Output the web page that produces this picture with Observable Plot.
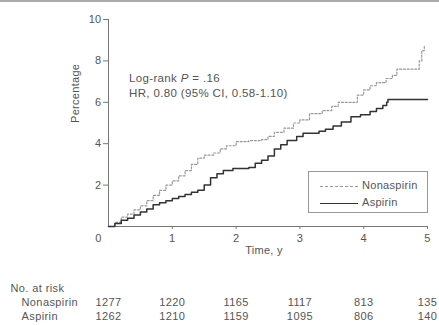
<!DOCTYPE html>
<html>
<head>
<meta charset="utf-8">
<script src="https://cdn.jsdelivr.net/npm/d3@7"></script>
<script src="https://cdn.jsdelivr.net/npm/@observablehq/plot@0.6"></script>
<style>
  html, body { margin: 0; padding: 0; background: #fff; }
  #wrap { position: relative; width: 439px; height: 325px; overflow: hidden;
          font-family: "Liberation Sans", Arial, sans-serif; color: #555; }
  #topline { position: absolute; left: 0; top: 0; width: 439px; height: 2px; background: #aaa; }
  #wrap svg { display: block; }
  .note { position: absolute; left: 129px; top: 71px; font-size: 11.5px; line-height: 15px; color: #555;
          white-space: nowrap; letter-spacing: 0.35px; }
  .legend { position: absolute; left: 308px; top: 171px; width: 118px; height: 40px;
            border: 1px solid #999; background: #fff; font-size: 11px; color: #555; letter-spacing: 0.3px; }
  .legend .row { position: absolute; left: 11px; height: 12px; line-height: 12px; white-space: nowrap; }
  .legend .sw { display: inline-block; width: 38px; vertical-align: middle; margin-right: 4px; }
</style>
</head>
<body>
<div id="wrap"><div id="topline"></div></div>
<script>
// ---- data ----
const aspirinTime = [0,0.1,0.2,0.3,0.4,0.5,0.6,0.7,0.8,0.9,1.0,1.1,1.2,1.3,1.4,1.5,1.6,1.7,1.8,1.95,2.2,2.3,2.4,2.5,2.6,2.7,2.8,2.95,3.05,3.3,3.4,3.52,3.65,3.8,3.95,4.1,4.2,4.3,4.36,4.38,5.0];
const aspirinPct  = [0,0.15,0.3,0.4,0.55,0.7,0.85,1.05,1.15,1.25,1.35,1.45,1.55,1.65,1.75,2.0,2.35,2.55,2.7,2.8,2.85,3.05,3.2,3.4,3.75,3.95,4.15,4.35,4.5,4.6,4.7,4.85,5.05,5.3,5.4,5.55,5.7,5.85,6.0,6.13,6.13];
const nonTime = [0,0.1,0.2,0.3,0.4,0.5,0.6,0.7,0.8,0.9,1.0,1.1,1.2,1.3,1.4,1.5,1.65,1.75,1.85,2.0,2.2,2.4,2.5,2.6,2.75,2.9,3.0,3.15,3.35,3.5,3.6,3.78,3.9,4.0,4.1,4.2,4.35,4.45,4.52,4.83,4.87,4.91,4.95];
const nonPct  = [0,0.2,0.45,0.6,0.8,1.0,1.25,1.5,1.75,2.0,2.2,2.45,2.7,3.0,3.3,3.45,3.55,3.75,3.9,4.1,4.15,4.2,4.35,4.55,4.75,5.0,5.15,5.45,5.6,5.8,6.0,6.0,6.35,6.6,6.8,6.95,7.15,7.3,7.6,7.6,8.0,8.5,8.75];
const xTicks = [1,2,3,4,5];
const yTicks = [2,4,6,8,10];
const riskTimes = [0,1,2,3,4,5];
const riskGroups = ["Nonaspirin","Aspirin"];
const riskNonaspirin = [1277,1220,1165,1117,813,135];
const riskAspirin = [1262,1210,1159,1095,806,140];

const aspirin = aspirinTime.map((t,i)=>({t, p: aspirinPct[i]}));
const nonasp = nonTime.map((t,i)=>({t, p: nonPct[i]}));
const risk = [];
riskTimes.forEach((t,i)=>{
  risk.push({g: "Nonaspirin", t, n: riskNonaspirin[i]});
  risk.push({g: "Aspirin", t, n: riskAspirin[i]});
});

const font = "Liberation Sans, Arial, sans-serif";
const ink = "#555";
const axisInk = "#777";

const main = Plot.plot({
  width: 439, height: 260,
  marginLeft: 108, marginRight: 12, marginTop: 19, marginBottom: 34,
  style: {fontFamily: font, fontSize: "11px", color: ink, background: "white", letterSpacing: "0.3px"},
  x: {domain: [0,5]},
  y: {domain: [0,10]},
  marks: [
    Plot.ruleX([0], {stroke: axisInk, strokeWidth: 1}),
    Plot.ruleY([0], {stroke: axisInk, strokeWidth: 1}),
    Plot.axisY({ticks: yTicks, tickSize: 5, tickPadding: 2, stroke: axisInk, fill: ink,
                tickFormat: "d", label: null, fontSize: 11}),
    Plot.axisX({ticks: xTicks, tickSize: 3, tickPadding: 5, stroke: axisInk, fill: ink,
                tickFormat: "d", label: null, fontSize: 11}),
    Plot.axisX({ticks: [0], tickSize: 0, tickPadding: 8, dx: -10, fill: ink, tickFormat: "d", label: null, fontSize: 11}),
    Plot.text(["Time, y"], {frameAnchor: "bottom", text: d => d, dy: 27, dx: -4, fill: ink, fontSize: 11}),
    Plot.text(["Percentage"], {frameAnchor: "left", text: d => d, rotate: -90, dx: -33, fill: ink, fontSize: 11}),
    Plot.line(nonasp, {x: "t", y: "p", curve: "step-after", stroke: "#999", strokeWidth: 1.2, strokeDasharray: "2,1.8"}),
    Plot.line(aspirin, {x: "t", y: "p", curve: "step-after", stroke: "#333", strokeWidth: 1.5})
  ]
});

const table = Plot.plot({
  width: 439, height: 65,
  marginLeft: 108, marginRight: 12, marginTop: 28, marginBottom: 9,
  style: {fontFamily: font, fontSize: "11px", color: ink, background: "white", overflow: "visible", letterSpacing: "0.4px"},
  x: {domain: [0,5], axis: null},
  y: {type: "point", domain: ["No. at risk", ...riskGroups], padding: 0, axis: null},
  marks: [
    Plot.text(["No. at risk"], {x: () => 0, y: d => d, text: d => d, textAnchor: "start", dx: -98, fill: ink}),
    Plot.text(riskGroups, {x: () => 0, y: d => d, text: d => d, textAnchor: "start", dx: -87, fill: ink}),
    Plot.text(risk, {x: "t", y: "g", text: d => String(d.n), textAnchor: "middle", fill: ink})
  ]
});

const wrap = document.getElementById("wrap");
wrap.appendChild(main);
wrap.appendChild(table);

const note = document.createElement("div");
note.className = "note";
note.innerHTML = 'Log-rank <i>P</i> = .16<br>HR, 0.80 (95% CI, 0.58-1.10)';
wrap.appendChild(note);

const legend = document.createElement("div");
legend.className = "legend";
legend.innerHTML =
  '<div class="row" style="top:7px"><span class="sw" style="border-top:1.2px dashed #999"></span>Nonaspirin</div>' +
  '<div class="row" style="top:24px"><span class="sw" style="border-top:1.5px solid #333"></span>Aspirin</div>';
wrap.appendChild(legend);
</script>
</body>
</html>
